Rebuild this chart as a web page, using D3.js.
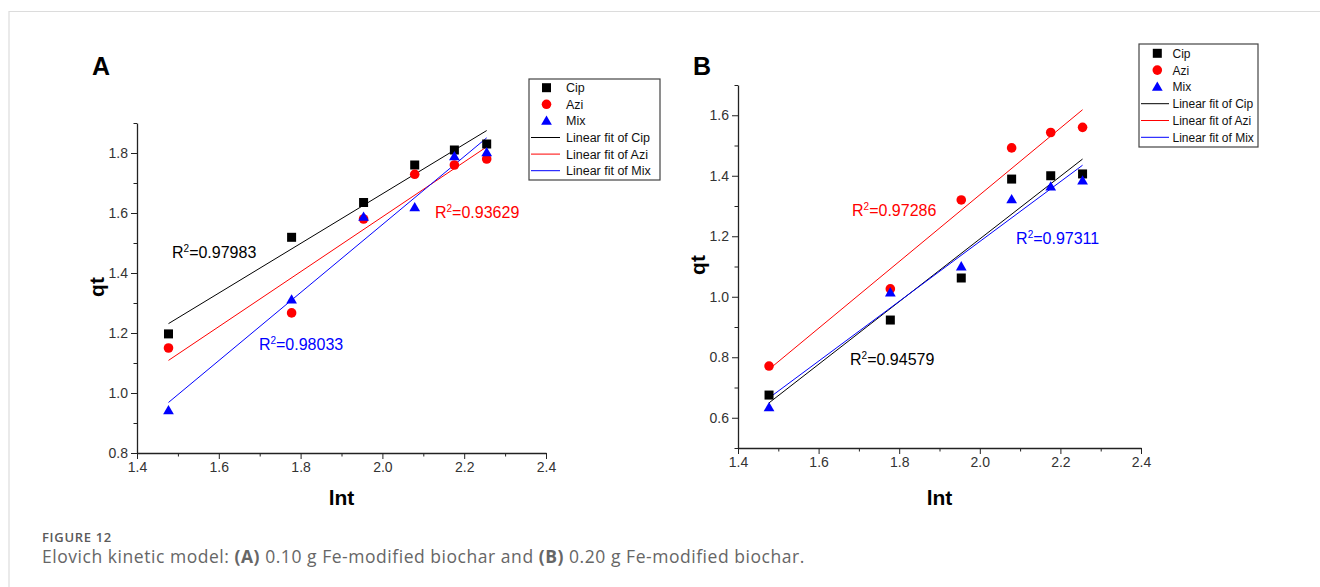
<!DOCTYPE html>
<html>
<head>
<meta charset="utf-8">
<script src="https://cdn.jsdelivr.net/npm/d3@7"></script>
<style>
  body { margin: 0; background: #fff; }
  svg { display: block; }
</style>
</head>
<body>
<svg id="fig" width="1320" height="587"></svg>
<script>
// ln t values shared by both panels
const lnt = [1.477, 1.778, 1.954, 2.079, 2.176, 2.255];

// panel A: 0.10 g Fe-modified biochar
const cipA = [1.197, 1.519, 1.635, 1.76, 1.81, 1.83];
const aziA = [1.15, 1.267, 1.58, 1.729, 1.76, 1.78];
const mixA = [0.942, 1.311, 1.587, 1.619, 1.789, 1.802];
const r2A = ["0.97983", "0.93629", "0.98033"];

// panel B: 0.20 g Fe-modified biochar
const cipB = [0.675, 0.923, 1.062, 1.389, 1.40, 1.406];
const aziB = [0.771, 1.026, 1.32, 1.492, 1.543, 1.56];
const mixB = [0.634, 1.014, 1.10, 1.322, 1.364, 1.384];
const r2B = ["0.94579", "0.97286", "0.97311"];

const seriesNames = ["Cip", "Azi", "Mix"];
const seriesColors = ["#000000", "#ff0000", "#0000ff"];
const xTicks = [1.4, 1.6, 1.8, 2.0, 2.2, 2.4];
const yTicksA = [0.8, 1.0, 1.2, 1.4, 1.6, 1.8];
const yTicksB = [0.6, 0.8, 1.0, 1.2, 1.4, 1.6];

const svg = d3.select("#fig");
const FONT = "Arial, 'Liberation Sans', sans-serif";

// light page frame
svg.append("path")
  .attr("d", "M9,587 L9,11.5 L1320,11.5")
  .attr("fill", "none").attr("stroke", "#dcdcdc").attr("stroke-width", 1.2);

function linFit(xs, ys) {
  const mx = d3.mean(xs), my = d3.mean(ys);
  const sxy = d3.sum(xs, (x, i) => (x - mx) * (ys[i] - my));
  const sxx = d3.sum(xs, x => (x - mx) * (x - mx));
  const b = sxy / sxx;
  return x => my + b * (x - mx);
}

function symbol(g, i, x, y) {
  const c = seriesColors[i];
  if (i === 0) {
    g.append("rect").attr("x", x - 4.5).attr("y", y - 4.5).attr("width", 9).attr("height", 9).attr("fill", c);
  } else if (i === 1) {
    g.append("circle").attr("cx", x).attr("cy", y).attr("r", 4.8).attr("fill", c);
  } else {
    g.append("path").attr("d", d3.symbol(d3.symbolTriangle, 50)()).attr("transform", `translate(${x},${y + 0.8})`).attr("fill", c);
  }
}

function drawPanel(cfg) {
  const x = d3.scaleLinear().domain([1.4, 2.4]).range(cfg.xr);
  const y = d3.scaleLinear().domain(cfg.yd).range(cfg.yr);
  const g = svg.append("g");

  // minor ticks
  const minorX = [1.5, 1.7, 1.9, 2.1, 2.3];
  g.append("g").attr("transform", `translate(0,${cfg.yr[0]})`)
    .call(d3.axisBottom(x).tickValues(minorX).tickSize(3.5).tickFormat("").tickSizeOuter(0))
    .call(a => a.select(".domain").remove());
  g.append("g").attr("transform", `translate(${cfg.xr[0]},0)`)
    .call(d3.axisLeft(y).tickValues(cfg.minorY).tickSize(3.5).tickFormat("").tickSizeOuter(0))
    .call(a => a.select(".domain").remove());

  // main axes
  const xa = g.append("g").attr("transform", `translate(0,${cfg.yr[0]})`)
    .call(d3.axisBottom(x).tickValues(xTicks).tickSize(6).tickSizeOuter(0).tickPadding(3).tickFormat(d3.format(".1f")));
  const ya = g.append("g").attr("transform", `translate(${cfg.xr[0]},0)`)
    .call(d3.axisLeft(y).tickValues(cfg.yTicks).tickSize(6).tickSizeOuter(0).tickPadding(3).tickFormat(d3.format(".1f")));
  [xa, ya].forEach(a => {
    a.attr("font-size", null).attr("font-family", null);
    a.selectAll("text").style("font-family", FONT).style("font-size", "14px").attr("fill", "#333");
    a.select(".domain").attr("stroke", "#222").attr("stroke-width", 1.3);
  });
  g.selectAll(".tick line").attr("stroke", "#222");

  // fit lines
  cfg.data.forEach((ys, i) => {
    const f = linFit(lnt, ys);
    const x0 = d3.min(lnt), x1 = d3.max(lnt);
    g.append("line")
      .attr("x1", x(x0)).attr("y1", y(f(x0)))
      .attr("x2", x(x1)).attr("y2", y(f(x1)))
      .attr("stroke", seriesColors[i]).attr("stroke-width", 1);
  });

  // points
  cfg.data.forEach((ys, i) => {
    ys.forEach((v, k) => symbol(g, i, x(lnt[k]), y(v)));
  });

  // R^2 labels
  cfg.r2.forEach((txt, i) => {
    const pos = cfg.r2pos[i];
    const t = g.append("text")
      .attr("x", x(pos[0])).attr("y", y(pos[1]))
      .attr("font-family", FONT).attr("font-size", 16).attr("fill", seriesColors[i]);
    t.append("tspan").text("R");
    t.append("tspan").attr("dy", -6).attr("font-size", 10).text("2");
    t.append("tspan").attr("dy", 6).text("=" + txt);
  });

  // panel letter and axis titles
  g.append("text").attr("x", cfg.letterX).attr("y", 75)
    .attr("font-family", FONT).attr("font-weight", "bold").attr("font-size", 25).text(cfg.letter);
  g.append("text")
    .attr("transform", `translate(${cfg.xr[0] - 33},${cfg.qtY}) rotate(-90)`)
    .attr("text-anchor", "middle")
    .attr("font-family", FONT).attr("font-weight", "bold").attr("font-size", 21).text("qt");
  g.append("text")
    .attr("x", (cfg.xr[0] + cfg.xr[1]) / 2).attr("y", 505)
    .attr("text-anchor", "middle")
    .attr("font-family", FONT).attr("font-weight", "bold").attr("font-size", 21).text("lnt");

  // legend
  const L = cfg.legend;
  const lg = g.append("g");
  lg.append("rect").attr("x", L.x).attr("y", L.y).attr("width", L.w).attr("height", L.h)
    .attr("fill", "#fff").attr("stroke", "#444").attr("stroke-width", 1.2);
  const rows = seriesNames.map((n, i) => ({ label: n, i, kind: "pt" }))
    .concat(seriesNames.map((n, i) => ({ label: "Linear fit of " + n, i, kind: "ln" })));
  rows.forEach((r, k) => {
    const ry = L.y + L.first + k * L.step;
    if (r.kind === "pt") symbol(lg, r.i, L.symX, ry);
    else lg.append("line").attr("x1", L.x + 2).attr("x2", L.x + L.lineW).attr("y1", ry).attr("y2", ry)
      .attr("stroke", seriesColors[r.i]).attr("stroke-width", 1);
    lg.append("text").attr("x", L.textX).attr("y", ry + 4.5)
      .attr("font-family", FONT).attr("font-size", L.fs).attr("fill", "#111").text(r.label);
  });
}

drawPanel({
  letter: "A", letterX: 92,
  xr: [137, 546], yd: [0.8, 1.9], yr: [453, 123],
  yTicks: yTicksA, minorY: [0.9, 1.1, 1.3, 1.5, 1.7, 1.9],
  qtY: 287,
  data: [cipA, aziA, mixA], r2: r2A,
  r2pos: [[1.4856, 1.45], [2.1286, 1.583], [1.698, 1.143]],
  legend: { x: 529, y: 79, w: 131, h: 101, first: 8.7, step: 16.6, symX: 546.5, lineW: 31, textX: 566, fs: 12.5 }
});

drawPanel({
  letter: "B", letterX: 693,
  xr: [738, 1141], yd: [0.5, 1.7], yr: [448, 85],
  yTicks: yTicksB, minorY: [0.5, 0.7, 0.9, 1.1, 1.3, 1.5, 1.7],
  qtY: 265,
  data: [cipB, aziB, mixB], r2: r2B,
  r2pos: [[1.678, 0.774], [1.683, 1.267], [2.09, 1.174]],
  legend: { x: 1139, y: 44, w: 119, h: 103, first: 9.3, step: 16.8, symX: 1157.3, lineW: 30, textX: 1172.5, fs: 12 }
});

// caption
const cap = svg.append("g").attr("font-family", "'Open Sans', Lato, sans-serif");
const fig = cap.append("text").attr("x", 42).attr("y", 542).attr("font-size", 13)
  .attr("font-weight", 600).attr("fill", "#5a5a5a").text("FIGURE 12");
const ct = cap.append("text").attr("x", 42).attr("y", 563).attr("font-size", 17.5).attr("fill", "#666");
[["Elovich kinetic model: ", 400], ["(A)", 700], [" 0.10 g Fe-modified biochar and ", 400], ["(B)", 700], [" 0.20 g Fe-modified biochar.", 400]]
  .forEach(([s, w]) => ct.append("tspan").attr("font-weight", w).text(s));

// stretch caption lines to the reference widths with letter spacing
function fitWidth(t, w) {
  const len = t.node().getComputedTextLength();
  t.attr("letter-spacing", ((w - len) / t.text().length).toFixed(2));
}
fitWidth(fig, 70);
fitWidth(ct, 763);
</script>
</body>
</html>
